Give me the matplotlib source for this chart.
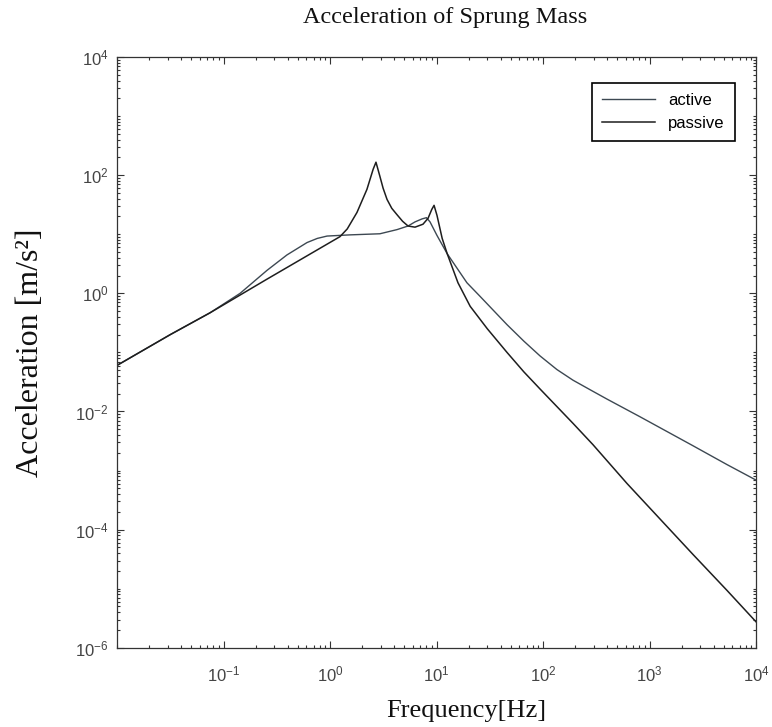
import numpy as np
import matplotlib
matplotlib.use('Agg')
import matplotlib.pyplot as plt
from matplotlib.ticker import LogLocator, NullFormatter

plt.rcParams['font.family'] = ['Liberation Sans', 'DejaVu Sans']
plt.rcParams['mathtext.fontset'] = 'custom'
plt.rcParams['mathtext.rm'] = 'Liberation Sans'
plt.rcParams['mathtext.it'] = 'Liberation Sans:italic'
plt.rcParams['mathtext.bf'] = 'Liberation Sans:bold'

# values (Hz, m/s^2)
freq_active = [0.01, 0.0316, 0.0746, 0.143, 0.256, 0.394, 0.608, 0.759, 0.938, 1.54,
               2.94, 4.26, 5.40, 6.28, 7.31, 8.04, 8.69, 10.1, 12.6, 19.3,
               25.6, 45.9, 66.1, 93.8, 135, 191, 282, 399, 815, 2559,
               5346, 10000]
acc_active = [0.0603, 0.200, 0.468, 1.0, 2.45, 4.47, 7.24, 8.51, 9.33, 9.77,
              10.2, 12.0, 13.8, 16.2, 18.2, 19.1, 16.2, 9.55, 4.68, 1.51,
              0.891, 0.295, 0.155, 0.0871, 0.0513, 0.0339, 0.0229, 0.0162, 0.00813, 0.00263,
              0.00126, 0.00069]

freq_passive = [0.01, 0.0316, 0.0746, 0.256, 1.24, 1.45, 1.79, 2.22, 2.54, 2.70,
                2.94, 3.15, 3.43, 3.80, 4.26, 4.80, 5.40, 6.28, 7.46, 8.32,
                9.02, 9.48, 10.1, 11.3, 12.6, 15.9, 20.7, 30.0, 45.9, 66.1,
                93.8, 191, 294, 615, 1256, 2559, 5346, 10000]
acc_passive = [0.0603, 0.200, 0.468, 1.74, 9.12, 12.3, 23.4, 57.5, 126, 166,
               95.5, 60.3, 38.9, 27.5, 21.4, 16.6, 13.8, 13.2, 14.8, 18.6,
               26.3, 30.9, 20.9, 8.51, 4.68, 1.51, 0.603, 0.251, 0.100, 0.0468,
               0.0240, 0.00631, 0.00275, 6.03e-4, 1.51e-4, 3.80e-5, 9.33e-6, 2.75e-6]

x_ticks = [1e-1, 1e0, 1e1, 1e2, 1e3, 1e4]
y_ticks = [1e-6, 1e-4, 1e-2, 1e0, 1e2, 1e4]

fig = plt.figure(figsize=(7.72, 7.27), dpi=100)
ax = fig.add_axes([0.1516, 0.109, 0.8277, 0.8125])

ax.loglog(freq_active, acc_active, color='#3d4852', lw=1.0, label='active')
ax.loglog(freq_passive, acc_passive, color='#1e1e1e', lw=1.1, label='passive')

ax.set_xlim(1e-2, 1e4)
ax.set_ylim(1e-6, 1e4)
ax.set_xticks(x_ticks)
ax.set_yticks(y_ticks)
for axis in (ax.xaxis, ax.yaxis):
    axis.set_minor_locator(LogLocator(base=10, subs=np.arange(1, 10), numticks=60))
    axis.set_minor_formatter(NullFormatter())

ax.tick_params(which='both', direction='in', top=True, right=True,
               color='#333333', width=0.8, labelcolor='#444444', labelsize=12)
ax.tick_params(which='major', length=5)
ax.tick_params(which='minor', length=2.5)
ax.tick_params(axis='x', pad=12)
ax.tick_params(axis='y', pad=6)

for sp in ax.spines.values():
    sp.set_color('#333333')
    sp.set_linewidth(0.9)

fig.text(445 / 772, 1 - 18 / 727, 'Acceleration of Sprung Mass', ha='center', va='center',
         fontsize=17.5, family='Liberation Serif', color='#111111')
ax.set_xlabel('Frequency[Hz]', fontsize=19, family='Liberation Serif', color='#111111')
ax.xaxis.set_label_coords(0.546, -0.088)
ax.set_ylabel('Acceleration [m/s²]', fontsize=23, family='Liberation Serif', color='#111111')
ax.yaxis.set_label_coords(-0.112, 0.50)

leg = ax.legend(loc='upper right', bbox_to_anchor=(0.980, 0.971), fontsize=12,
                handlelength=3.2, fancybox=False, edgecolor='black', framealpha=1,
                borderpad=0.6, labelspacing=0.5)
leg.get_frame().set_linewidth(1.2)

fig.savefig('out.png', dpi=100)
